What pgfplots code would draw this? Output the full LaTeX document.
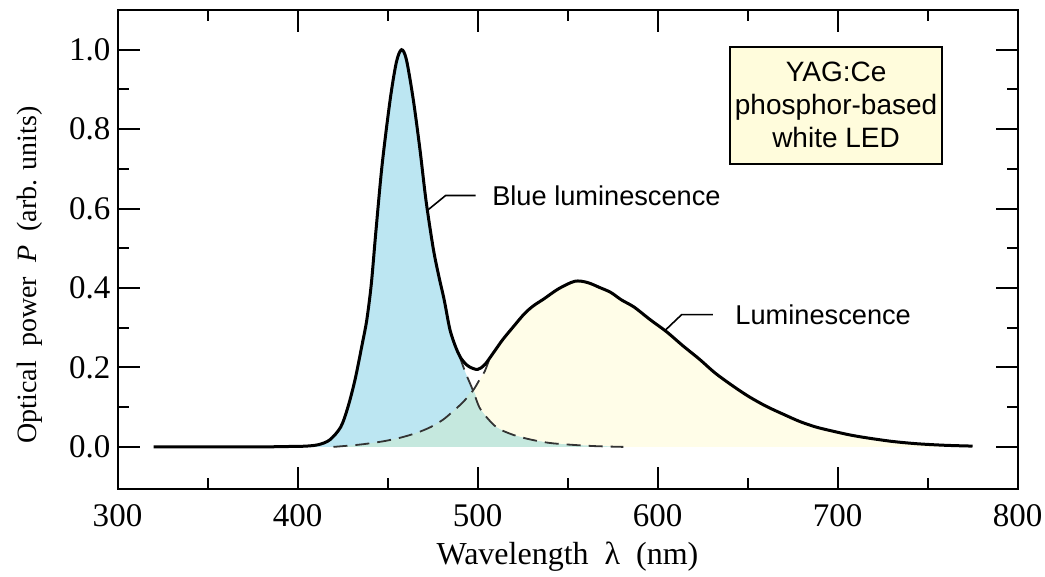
\documentclass[border=0pt]{standalone}
\usepackage{pgfplots}
\pgfplotsset{compat=1.18}
\usepackage{fontspec}
\setmainfont{Liberation Serif}
\newfontfamily\sansf{Liberation Sans}
\definecolor{bluefill}{HTML}{BCE6F2}
\definecolor{greenfill}{HTML}{C5E8DE}
\definecolor{yellowfill}{HTML}{FFFDE8}
\definecolor{boxfill}{HTML}{FFFCDC}
\definecolor{dashc}{HTML}{333333}
\begin{document}
\begin{tikzpicture}
\begin{axis}[
  scale only axis, width=450pt, height=239.5pt,
  xmin=300, xmax=800, ymin=-0.106, ymax=1.1,
  xtick={300,400,500,600,700,800}, minor xtick={350,450,550,650,750},
  ytick={0,0.2,0.4,0.6,0.8,1.0}, minor ytick={0.1,0.3,0.5,0.7,0.9},
  xtick pos=both, ytick pos=both, tick align=inside,
  major tick length=11pt, minor tick length=5.5pt,
  tick style={black, line width=1pt},
  axis line style={line width=1pt},
  /pgf/number format/assume math mode=true,
  tick label style={font=\fontsize{16.5}{18}\selectfont},
  xticklabel style={yshift=-4pt},
  yticklabel style={/pgf/number format/fixed, /pgf/number format/fixed zerofill, /pgf/number format/precision=1},
  xlabel={Wavelength\ \ λ\ \ (nm)},
  ylabel={Optical\ \ power\ \ \textit{P}\ \ (arb. units)},
  xlabel style={font=\fontsize{16}{18}\selectfont, at={(rel axis cs:0.5,0)}, anchor=center, yshift=-34pt},
  ylabel style={font=\fontsize{14}{16}\selectfont, at={(rel axis cs:0,0.447)}, anchor=center, yshift=43.75pt},
]
\coordinate (bl) at (rel axis cs:0,0);
\coordinate (tr) at (rel axis cs:1,1);
% yellow component fill
\addplot[draw=none, fill=yellowfill, smooth] coordinates {
(420,0) (435,0.006) (447.5,0.014) (457,0.023) (466,0.035) (474,0.05) (480.7,0.068) (486,0.088) (491.8,0.112) (497.5,0.142) (501,0.168) (504,0.19) (507,0.226) (509,0.238) (514,0.27) (520,0.303) (526,0.335) (531,0.355) (537,0.373) (545,0.398) (554,0.417) (561,0.414) (568,0.401) (574,0.389) (580,0.37) (587,0.352) (596,0.32) (605,0.29) (614,0.255) (623.5,0.22) (632,0.186) (642,0.153) (651,0.126) (660.5,0.102) (670,0.082) (679,0.064) (688,0.05) (698,0.039) (707,0.03) (716,0.023) (730,0.014) (744,0.008) (760,0.004) (775,0.002)
} \closedcycle;
% blue component fill
\addplot[draw=none, fill=bluefill, smooth] coordinates {
(405,0.002) (412,0.006) (418,0.018) (424,0.05) (428,0.10) (432,0.17) (436,0.26) (438.5,0.32) (441,0.41) (443.5,0.54) (447,0.71) (451.5,0.875) (455,0.97) (457.8,1.0) (460.5,0.975) (464.3,0.875) (468,0.75) (471.4,0.62) (475.4,0.50) (478.5,0.43) (481.5,0.37) (484.7,0.295) (488,0.25) (490,0.228) (493.5,0.185) (497.5,0.142) (501,0.1) (505,0.075) (511,0.048) (520,0.03) (530,0.018) (540,0.01) (550,0.006) (565,0.002) (581,0)
} \closedcycle;
% overlap fill
\addplot[draw=none, fill=greenfill, smooth] coordinates {
(420,0) (435,0.006) (447.5,0.014) (457,0.023) (466,0.035) (474,0.05) (480.7,0.068) (486,0.088) (491.8,0.112) (497.5,0.142) (501,0.1) (505,0.075) (511,0.048) (520,0.03) (530,0.018) (540,0.01) (550,0.006) (565,0.002) (581,0)
} \closedcycle;
% dashed components
\addplot[dashc, line width=0.9pt, dash pattern=on 7pt off 4pt, smooth] coordinates {
(490,0.228) (493.5,0.185) (497.5,0.142) (501,0.1) (505,0.075) (511,0.048) (520,0.03) (530,0.018) (540,0.01) (550,0.006) (565,0.002) (581,0)
};
\addplot[dashc, line width=0.9pt, dash pattern=on 7pt off 4pt, smooth] coordinates {
(420,0) (435,0.006) (447.5,0.014) (457,0.023) (466,0.035) (474,0.05) (480.7,0.068) (486,0.088) (491.8,0.112) (497.5,0.142) (501,0.168) (504,0.19) (507,0.226)
};
% total spectrum
\addplot[black, line width=1.5pt, smooth] coordinates {
(320,0) (340,0) (360,0) (380,0) (395,0.001) (405,0.002) (412,0.006) (418,0.018) (424,0.05) (428,0.10) (432,0.17) (436,0.26) (438.5,0.32) (441,0.41) (443.5,0.54) (447,0.71) (451.5,0.875) (455,0.97) (457.8,1.0) (460.5,0.975) (464.3,0.875) (468,0.75) (471.4,0.62) (475.4,0.50) (478.5,0.43) (481.5,0.37) (484.7,0.295) (488,0.25) (491,0.222) (495,0.203) (500,0.195) (504,0.207) (509,0.238) (514,0.27) (520,0.303) (526,0.335) (531,0.355) (537,0.373) (545,0.398) (554,0.417) (561,0.414) (568,0.401) (574,0.389) (580,0.37) (587,0.352) (596,0.32) (605,0.29) (614,0.255) (623.5,0.22) (632,0.186) (642,0.153) (651,0.126) (660.5,0.102) (670,0.082) (679,0.064) (688,0.05) (698,0.039) (707,0.03) (716,0.023) (730,0.014) (744,0.008) (760,0.004) (775,0.002)
};
% annotations
\draw[line width=0.8pt] (axis cs:472.3,0.596) -- (axis cs:482.3,0.633) -- (axis cs:499,0.633);
\node[anchor=west, inner sep=0pt, font=\sansf\fontsize{13.6}{16}\selectfont] at (axis cs:508,0.633) {Blue luminescence};
\draw[line width=0.8pt] (axis cs:604.6,0.295) -- (axis cs:613.4,0.333) -- (axis cs:630.8,0.333);
\node[anchor=west, inner sep=0pt, font=\sansf\fontsize{13.6}{16}\selectfont] at (axis cs:643.1,0.333) {Luminescence};
\draw[line width=1pt, fill=boxfill] (axis cs:640.3,0.713) rectangle (axis cs:758,1.007);
\node[align=center, inner sep=0pt, font=\sansf\fontsize{14}{16.5}\selectfont] at (axis cs:699.2,0.862) {YAG:Ce\\phosphor-based\\white LED};
\end{axis}
\pgfresetboundingbox
\path ([shift={(-58.75pt,-43.5pt)}]bl) rectangle ([shift={(13.75pt,5pt)}]tr);
\end{tikzpicture}
\end{document}
